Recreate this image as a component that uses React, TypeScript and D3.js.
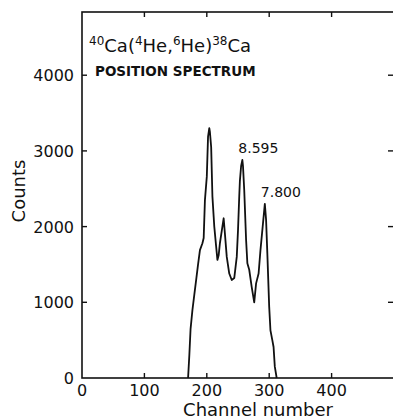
import { useEffect, useRef } from "react";
import * as d3 from "d3";

// spectrum
const channel = [170, 172, 174, 177, 180, 183, 186, 189, 193, 195, 197, 200, 202, 204, 205, 207, 209, 212, 215, 217, 219, 221, 225, 227, 229, 232, 236, 240, 244, 248, 250, 252, 253, 255, 257, 258, 260, 263, 265, 268, 272, 276, 279, 283, 286, 290, 293, 295, 297, 300, 302, 305, 307, 309, 312];
const counts = [0, 300, 650, 900, 1100, 1300, 1500, 1690, 1780, 1850, 2350, 2660, 3190, 3300, 3250, 3050, 2400, 2000, 1735, 1560, 1620, 1780, 2000, 2110, 1910, 1600, 1380, 1295, 1320, 1600, 1950, 2400, 2600, 2800, 2880, 2800, 2480, 1820, 1515, 1430, 1200, 1000, 1250, 1380, 1690, 2040, 2300, 2090, 1650, 940, 630, 500, 410, 150, 0];

const xTicks = [0, 100, 200, 300, 400];
const yTicks = [0, 1000, 2000, 3000, 4000];
const peakLabels = [
  { text: "8.595", ch: 257, c: 2880 },
  { text: "7.800", ch: 293, c: 2300 },
];

const App = () => {
  const svgRef = useRef<SVGSVGElement>(null);
  const width = 393;
  const height = 419;

  useEffect(() => {
    const svg = d3.select(svgRef.current);
    svg.selectAll("*").remove();

    const left = 82, right = 394, top = 12, bottom = 378;
    const x = d3.scaleLinear().domain([0, 500]).range([left, right]);
    const y = d3.scaleLinear().domain([0, 4835]).range([bottom, top]);
    const font = "'DejaVu Sans', sans-serif";
    const ink = "#111";

    const g = svg.append("g");

    // frame
    g.append("rect")
      .attr("x", left).attr("y", top)
      .attr("width", right - left).attr("height", bottom - top)
      .attr("fill", "none").attr("stroke", ink).attr("stroke-width", 1.6);

    const tl = 5;
    // ticks on all four sides, pointing inward
    xTicks.filter(d => d > 0).forEach(d => {
      g.append("line").attr("x1", x(d)).attr("x2", x(d)).attr("y1", bottom).attr("y2", bottom - tl)
        .attr("stroke", ink).attr("stroke-width", 1.4);
      g.append("line").attr("x1", x(d)).attr("x2", x(d)).attr("y1", top).attr("y2", top + tl)
        .attr("stroke", ink).attr("stroke-width", 1.4);
    });
    yTicks.filter(d => d > 0).forEach(d => {
      g.append("line").attr("x1", left).attr("x2", left + tl).attr("y1", y(d)).attr("y2", y(d))
        .attr("stroke", ink).attr("stroke-width", 1.4);
      g.append("line").attr("x1", right - 1 - tl).attr("x2", right).attr("y1", y(d)).attr("y2", y(d))
        .attr("stroke", ink).attr("stroke-width", 1.4);
    });

    // tick labels
    g.selectAll(".xl").data(xTicks).enter().append("text")
      .attr("x", d => x(d)).attr("y", bottom + 18)
      .attr("text-anchor", "middle").attr("font-family", font).attr("font-size", 16)
      .attr("fill", ink).text(d => d);
    g.selectAll(".yl").data(yTicks).enter().append("text")
      .attr("x", left - 8).attr("y", d => y(d) + 6)
      .attr("text-anchor", "end").attr("font-family", font).attr("font-size", 16)
      .attr("fill", ink).text(d => d);

    // axis titles
    g.append("text").attr("x", 258).attr("y", 416).attr("text-anchor", "middle")
      .attr("font-family", font).attr("font-size", 18).attr("fill", ink).text("Channel number");
    g.append("text").attr("transform", `translate(25,191) rotate(-90)`).attr("text-anchor", "middle")
      .attr("font-family", font).attr("font-size", 18).attr("fill", ink).text("Counts");

    // spectrum
    const pts = channel.map((c, i) => [c, counts[i]] as [number, number]);
    g.append("path").datum(pts)
      .attr("d", d3.line<[number, number]>().x(d => x(d[0])).y(d => y(d[1])))
      .attr("fill", "none").attr("stroke", ink).attr("stroke-width", 1.8)
      .attr("stroke-linejoin", "round");

    // peak labels
    peakLabels.forEach(p => {
      g.append("text").attr("x", x(p.ch) - 4).attr("y", y(p.c) - 7)
        .attr("font-family", font).attr("font-size", 14).attr("fill", ink).text(p.text);
    });

    // title
    const t = g.append("text").attr("x", 89).attr("y", 52)
      .attr("font-family", font).attr("font-size", 18).attr("fill", ink);
    const parts: [string, boolean][] = [["40", true], ["Ca(", false], ["4", true], ["He,", false], ["6", true], ["He)", false], ["38", true], ["Ca", false]];
    parts.forEach(([s, sup]) => {
      t.append("tspan").attr("font-size", sup ? 12 : 18)
        .attr("baseline-shift", sup ? "7" : "0")
        .text(s);
    });
    g.append("text").attr("x", 95).attr("y", 76)
      .attr("font-family", font).attr("font-size", 13.5).attr("font-weight", "bold")
      .attr("fill", ink).text("POSITION SPECTRUM");
  }, []);

  return (
    <svg ref={svgRef} width={width} height={height}
      style={{ position: "absolute", left: 0, top: 0, background: "#fff" }} />
  );
};

export default App;
